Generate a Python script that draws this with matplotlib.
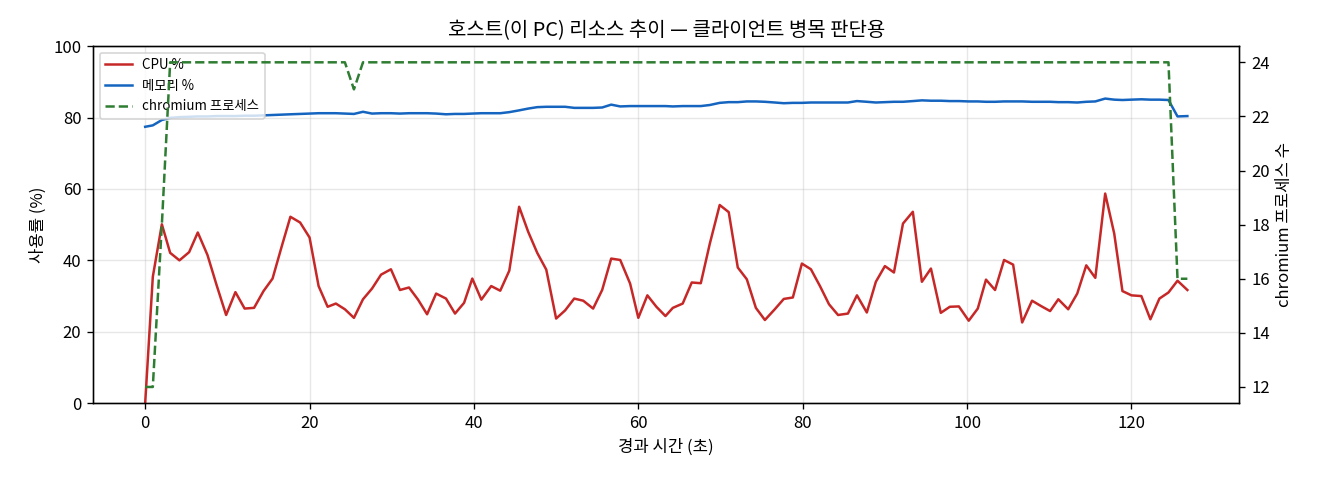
import matplotlib
matplotlib.use("Agg")
import matplotlib.pyplot as plt

plt.rcParams['font.family'] = ['Noto Sans CJK KR', 'DejaVu Sans']
plt.rcParams['axes.unicode_minus'] = False

elapsed = [
    0.0, 0.93, 2.03, 3.04, 4.17, 5.35, 6.4, 7.58, 8.7, 9.85,
    10.98, 12.1, 13.25, 14.4, 15.5, 16.6, 17.67, 18.85, 20.0, 21.1,
    22.2, 23.2, 24.3, 25.4, 26.5, 27.6, 28.7, 29.9, 31.0, 32.1,
    33.2, 34.3, 35.4, 36.6, 37.7, 38.8, 39.8, 40.9, 42.1, 43.2,
    44.3, 45.5, 46.6, 47.7, 48.8, 50.0, 51.1, 52.2, 53.3, 54.5,
    55.6, 56.7, 57.8, 59.0, 60.0, 61.1, 62.2, 63.3, 64.2, 65.4,
    66.5, 67.6, 68.7, 69.9, 71.0, 72.1, 73.2, 74.3, 75.4, 76.6,
    77.7, 78.8, 79.9, 81.0, 82.1, 83.2, 84.3, 85.5, 86.6, 87.8,
    88.9, 90.0, 91.1, 92.2, 93.4, 94.5, 95.6, 96.8, 97.9, 99.0,
    100.2, 101.3, 102.3, 103.4, 104.5, 105.6, 106.7, 107.9, 109.0, 110.1,
    111.1, 112.3, 113.4, 114.5, 115.6, 116.8, 117.9, 118.9, 120.0, 121.2,
    122.3, 123.4, 124.5, 125.6, 126.8,
]

cpu = [
    0.0, 35.4, 50.1, 42.1, 40.0, 42.3, 47.8, 41.5, 33.0, 24.7,
    31.1, 26.5, 26.7, 31.4, 34.9, 43.8, 52.2, 50.6, 46.4, 32.8,
    27.0, 27.9, 26.3, 23.9, 29.1, 32.1, 36.0, 37.5, 31.7, 32.4,
    29.0, 24.9, 30.7, 29.3, 25.1, 28.1, 34.9, 29.0, 32.8, 31.5,
    37.1, 55.0, 48.0, 42.1, 37.4, 23.7, 26.0, 29.3, 28.7, 26.5,
    31.7, 40.5, 40.1, 33.5, 23.9, 30.2, 27.0, 24.4, 26.7, 27.9,
    33.8, 33.6, 44.7, 55.5, 53.5, 38.0, 34.7, 26.7, 23.3, 26.3,
    29.2, 29.6, 39.1, 37.5, 32.8, 27.7, 24.7, 25.1, 30.2, 25.4,
    34.0, 38.4, 36.6, 50.3, 53.6, 34.0, 37.7, 25.3, 27.0, 27.1,
    23.1, 26.5, 34.6, 31.7, 40.1, 38.8, 22.6, 28.7, 27.2, 25.8,
    29.1, 26.3, 30.7, 38.6, 35.1, 58.7, 47.5, 31.4, 30.2, 30.0,
    23.5, 29.3, 31.0, 34.3, 31.7,
]

mem = [
    77.4, 77.8, 79.3, 79.9, 80.1, 80.2, 80.3, 80.3, 80.4, 80.4,
    80.4, 80.5, 80.5, 80.6, 80.7, 80.8, 80.9, 81.0, 81.1, 81.2,
    81.2, 81.2, 81.1, 81.0, 81.6, 81.1, 81.2, 81.2, 81.1, 81.2,
    81.2, 81.2, 81.1, 80.9, 81.0, 81.0, 81.1, 81.2, 81.2, 81.2,
    81.5, 82.0, 82.5, 82.9, 83.0, 83.0, 83.0, 82.7, 82.7, 82.7,
    82.8, 83.6, 83.1, 83.2, 83.2, 83.2, 83.2, 83.2, 83.1, 83.2,
    83.2, 83.2, 83.5, 84.1, 84.3, 84.3, 84.5, 84.5, 84.4, 84.2,
    84.0, 84.1, 84.1, 84.2, 84.2, 84.2, 84.2, 84.2, 84.6, 84.4,
    84.2, 84.3, 84.4, 84.4, 84.6, 84.8, 84.7, 84.7, 84.6, 84.6,
    84.5, 84.5, 84.4, 84.4, 84.5, 84.5, 84.5, 84.4, 84.4, 84.4,
    84.3, 84.3, 84.2, 84.4, 84.5, 85.3, 85.0, 84.9, 85.0, 85.1,
    85.0, 85.0, 84.9, 80.3, 80.4,
]

procs = [12, 12, 18] + [24] * 20 + [23] + [24] * 89 + [16, 16]

fig, ax = plt.subplots(figsize=(11, 4), dpi=120)
l1, = ax.plot(elapsed, cpu, color='#c62828', lw=1.5, label='CPU %')
l2, = ax.plot(elapsed, mem, color='#1565c0', lw=1.5, label='메모리 %')
ax.set_ylim(0, 100)
ax.set_xlabel('경과 시간 (초)')
ax.set_ylabel('사용률 (%)')
ax.grid(alpha=0.3)

ax2 = ax.twinx()
l3, = ax2.plot(elapsed, procs, color='#2e7d32', lw=1.5, ls='--', label='chromium 프로세스')
ax2.set_ylabel('chromium 프로세스 수')

ax.legend(handles=[l1, l2, l3], loc='upper left', fontsize=8)
ax.set_title('호스트(이 PC) 리소스 추이 — 클라이언트 병목 판단용')

fig.subplots_adjust(left=0.0705, right=0.939, top=0.904, bottom=0.160)
fig.savefig('out.png')
